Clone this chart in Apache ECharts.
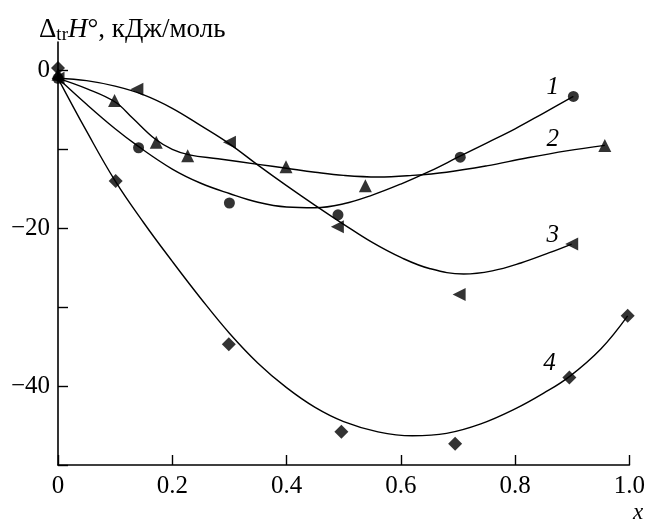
<!DOCTYPE html>
<html>
<head>
<meta charset="utf-8">
<script src="https://cdn.jsdelivr.net/npm/echarts@6/dist/echarts.min.js"></script>
<style>html,body{margin:0;padding:0;background:#fff}#c{width:648px;height:519px}</style>
</head>
<body>
<div id="c"></div>
<script>
// Experimental points
const pts1 = [[0,-1],[0.141,-9.8],[0.300,-16.8],[0.490,-18.3],[0.704,-11.0],[0.902,-3.3]];
const pts2 = [[0,-0.5],[0.099,-3.8],[0.172,-9.1],[0.227,-10.8],[0.399,-12.2],[0.538,-14.6],[0.957,-9.5]];
const pts3 = [[0,-1],[0.138,-2.4],[0.300,-9.1],[0.489,-19.8],[0.702,-28.4],[0.899,-22.0]];
const pts4 = [[0,0.3],[0.101,-14.0],[0.299,-34.7],[0.496,-45.8],[0.695,-47.3],[0.895,-38.9],[0.997,-31.1]];
// Fitted curves
const curve1 = [[0,-1],[0.05,-4.3],[0.1,-7.4],[0.14,-9.6],[0.2,-12.5],[0.25,-14.3],[0.3,-15.6],[0.35,-16.7],[0.4,-17.3],[0.45,-17.4],[0.5,-16.9],[0.55,-15.8],[0.6,-14.4],[0.65,-12.8],[0.7,-11.0],[0.75,-9.2],[0.8,-7.4],[0.85,-5.4],[0.902,-3.3]];
const curve2 = [[0,-1],[0.05,-2.3],[0.1,-4.0],[0.13,-6.0],[0.17,-8.7],[0.2,-10.0],[0.23,-10.7],[0.28,-11.2],[0.35,-11.9],[0.4,-12.4],[0.45,-12.9],[0.5,-13.3],[0.56,-13.5],[0.62,-13.3],[0.68,-12.9],[0.75,-12.1],[0.82,-11.1],[0.89,-10.2],[0.957,-9.5]];
const curve3 = [[0,-1],[0.05,-1.3],[0.1,-2.0],[0.15,-3.1],[0.2,-4.8],[0.25,-7.0],[0.3,-9.3],[0.35,-12.0],[0.4,-14.6],[0.45,-17.1],[0.5,-19.5],[0.55,-21.8],[0.6,-23.7],[0.65,-25.1],[0.71,-25.8],[0.76,-25.4],[0.81,-24.4],[0.86,-23.1],[0.899,-22.0]];
const curve4 = [[0,-1],[0.05,-7.7],[0.1,-14.0],[0.15,-19.3],[0.2,-24.2],[0.25,-28.9],[0.3,-33.3],[0.35,-37.1],[0.4,-40.2],[0.45,-42.7],[0.5,-44.5],[0.56,-45.8],[0.62,-46.3],[0.68,-46.0],[0.74,-44.8],[0.8,-42.9],[0.85,-40.9],[0.895,-38.8],[0.95,-35.3],[0.997,-31.1]];
// Curve numbers
const curveLabels = [['1',0.866,-2.2],['2',0.866,-8.7],['3',0.866,-20.9],['4',0.860,-37.1]];
// Axis ticks
const xTicks = [0,0.2,0.4,0.6,0.8,1.0];
const yTicks = [-50,-40,-30,-20,-10,0];
const yLabels = [-40,-20,0];

const FONT = '"Times New Roman","Liberation Serif",Times,serif';
const chart = echarts.init(document.getElementById('c'));
const lineS = (d) => ({type:'line', data:d, smooth:0.4, showSymbol:false, symbol:'none', silent:true,
  lineStyle:{color:'#000', width:1.4}, z:2});
const scatS = (d, sym, size, rot) => ({type:'scatter', data:d, symbol:sym, symbolSize:size, symbolRotate:rot||0,
  itemStyle:{color:'#000'}, z:3});

chart.setOption({
  animation:false,
  backgroundColor:'#fff',
  title:[
    {text:'{a|Δ}{s|tr}{i|H}{a|°, кДж/моль}', left:34, top:10,
     textStyle:{fontWeight:'normal', rich:{
       a:{fontFamily:FONT, fontSize:27, fontWeight:'normal', color:'#000'},
       i:{fontFamily:FONT, fontSize:27, fontWeight:'normal', fontStyle:'italic', color:'#000'},
       s:{fontFamily:FONT, fontSize:19, fontWeight:'normal', color:'#000', verticalAlign:'bottom', padding:[11,0,0,0]}
     }}},
    {text:'x', left:628, top:496, textStyle:{fontFamily:FONT, fontSize:23, fontStyle:'italic', fontWeight:'normal', color:'#000'}}
  ],
  grid:{left:58, right:15, top:42, bottom:54, containLabel:false},
  xAxis:{type:'value', min:0, max:1, interval:0.2,
    axisLine:{show:true, onZero:false, lineStyle:{color:'#000', width:1.6}},
    axisTick:{show:true, inside:true, length:10, lineStyle:{color:'#000', width:1.4}, customValues:xTicks},
    axisLabel:{fontFamily:FONT, fontSize:25, color:'#000', margin:9, customValues:xTicks,
      formatter:(v)=> v===0 ? '0' : v.toFixed(1)},
    splitLine:{show:false}},
  yAxis:{type:'value', min:-50, max:3.6,
    axisLine:{show:true, onZero:false, lineStyle:{color:'#000', width:1.6}},
    axisTick:{show:true, inside:true, length:10, lineStyle:{color:'#000', width:1.4}, customValues:yTicks},
    axisLabel:{fontFamily:FONT, fontSize:25, color:'#000', margin:8, customValues:yLabels,
      formatter:(v)=> v<0 ? '\u2212'+Math.abs(v) : String(v)},
    splitLine:{show:false}},
  series:[
    lineS(curve1), lineS(curve2), lineS(curve3), lineS(curve4),
    scatS(pts1,'circle',11),
    scatS(pts2,'triangle',13),
    scatS(pts3,'triangle',13,90),
    scatS(pts4,'diamond',14),
    {type:'scatter', data:curveLabels.map(d=>({name:d[0], value:[d[1],d[2]]})), symbolSize:0, silent:true,
     label:{show:true, position:'inside', formatter:'{b}', fontFamily:FONT, fontSize:25, fontStyle:'italic',
       color:'#000', textBorderWidth:0, textShadowBlur:0, opacity:1}, z:4}
  ]
});
</script>
</body>
</html>
